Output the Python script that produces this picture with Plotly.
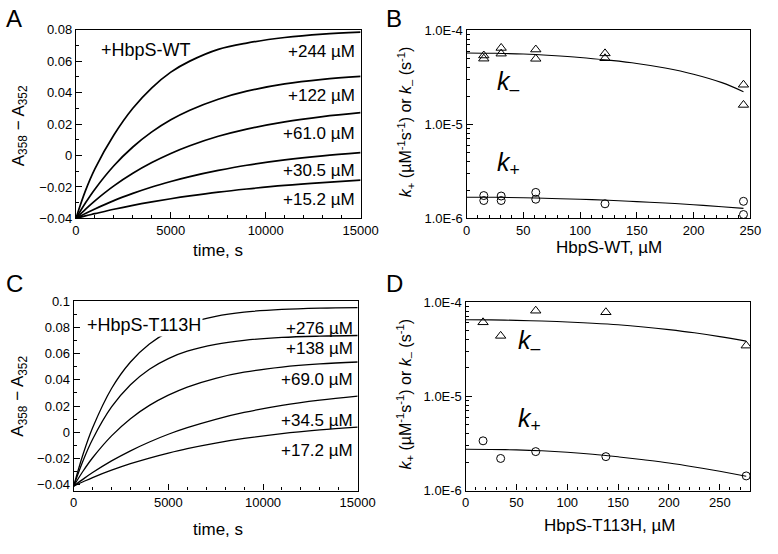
import plotly.graph_objects as go

# ---------------- data ----------------
t_A = [0, 500, 1000, 2000, 3000, 4000, 5000, 6000, 7500, 9000, 11000, 13000, 15000]
A_244 = [-0.04, -0.0225, -0.0085, 0.0130, 0.0300, 0.0430, 0.0530, 0.0600, 0.0675, 0.0715, 0.0750, 0.0772, 0.0785]
A_122 = [-0.04, -0.0302, -0.0214, -0.0065, 0.0054, 0.0150, 0.0227, 0.0288, 0.0358, 0.0409, 0.0455, 0.0484, 0.0503]
A_61 = [-0.04, -0.0342, -0.0288, -0.0193, -0.0113, -0.0045, 0.0013, 0.0062, 0.0122, 0.0168, 0.0214, 0.0247, 0.0272]
A_30 = [-0.04, -0.0369, -0.0340, -0.0287, -0.0241, -0.0200, -0.0165, -0.0134, -0.0095, -0.0062, -0.0028, -0.0002, 0.0018]
A_15 = [-0.04, -0.0384, -0.0370, -0.0342, -0.0317, -0.0295, -0.0275, -0.0257, -0.0233, -0.0213, -0.0190, -0.0172, -0.0157]
A_labels = ["+244 µM", "+122 µM", "+61.0 µM", "+30.5 µM", "+15.2 µM"]

t_C = [0, 500, 1000, 2000, 3000, 4000, 5000, 6000, 7500, 9000, 11000, 13000, 15000]
C_276 = [-0.041, -0.0166, 0.0034, 0.0334, 0.0536, 0.0673, 0.0765, 0.0827, 0.0884, 0.0916, 0.0937, 0.0947, 0.0951]
C_138 = [-0.041, -0.0215, -0.0053, 0.0193, 0.0363, 0.0481, 0.0562, 0.0618, 0.0671, 0.0701, 0.0723, 0.0733, 0.0738]
C_69 = [-0.041, -0.0295, -0.0194, -0.0027, 0.0104, 0.0205, 0.0283, 0.0345, 0.0412, 0.0458, 0.0497, 0.0521, 0.0536]
C_34 = [-0.041, -0.0357, -0.0307, -0.0218, -0.0141, -0.0074, -0.0015, 0.0035, 0.0099, 0.0151, 0.0205, 0.0245, 0.0276]
C_17 = [-0.041, -0.0377, -0.0345, -0.0289, -0.0239, -0.0196, -0.0158, -0.0124, -0.0082, -0.0047, -0.0010, 0.0018, 0.0040]
C_labels = ["+276 µM", "+138 µM", "+69.0 µM", "+34.5 µM", "+17.2 µM"]

B_conc_minus = [15.2, 15.2, 30.5, 30.5, 61, 61, 122, 122, 244, 244]
B_kminus = [5.4e-5, 5.0e-5, 6.5e-5, 5.65e-5, 6.25e-5, 4.98e-5, 5.69e-5, 5.05e-5, 2.64e-5, 1.61e-5]
B_conc_plus = [15.2, 15.2, 30.5, 30.5, 61, 61, 122, 244, 244]
B_kplus = [1.75e-6, 1.55e-6, 1.73e-6, 1.55e-6, 1.89e-6, 1.60e-6, 1.43e-6, 1.52e-6, 1.10e-6]
B_fit_x = [0, 25, 50, 75, 100, 125, 150, 175, 200, 225, 244]
B_fit_minus = [5.74e-5, 5.7e-5, 5.6e-5, 5.4e-5, 5.15e-5, 4.82e-5, 4.45e-5, 3.98e-5, 3.42e-5, 2.78e-5, 2.23e-5]
B_fit_plus = [1.68e-6, 1.68e-6, 1.66e-6, 1.63e-6, 1.6e-6, 1.56e-6, 1.51e-6, 1.46e-6, 1.4e-6, 1.33e-6, 1.28e-6]

D_conc = [17.2, 34.5, 69, 138, 276]
D_kminus = [6.1e-5, 4.38e-5, 8.1e-5, 7.8e-5, 3.45e-5]
D_kplus = [3.37e-6, 2.19e-6, 2.59e-6, 2.29e-6, 1.43e-6]
D_fit_x = [0, 25, 50, 75, 100, 125, 150, 175, 200, 225, 250, 276]
D_fit_minus = [6.5e-5, 6.48e-5, 6.4e-5, 6.3e-5, 6.15e-5, 5.97e-5, 5.75e-5, 5.45e-5, 5.1e-5, 4.72e-5, 4.3e-5, 3.85e-5]
D_fit_plus = [2.74e-6, 2.73e-6, 2.7e-6, 2.64e-6, 2.55e-6, 2.43e-6, 2.28e-6, 2.12e-6, 1.96e-6, 1.78e-6, 1.6e-6, 1.42e-6]

log_tickvals = [1e-6, 1e-5, 1e-4]
log_ticktext = ["1.0E-6", "1.0E-5", "1.0E-4"]
log_minor = [m * 10 ** e for e in (-6, -5) for m in range(2, 10)]

# ---------------- figure ----------------
W, H = 778, 554
FONT = "Arial, Liberation Sans, sans-serif"


def px(x):
    return x / W


def py(y):
    return 1 - y / H


fig = go.Figure()

for ys in (A_244, A_122, A_61, A_30, A_15):
    fig.add_trace(go.Scatter(x=t_A, y=ys, mode="lines", line=dict(color="black", width=1.7, shape="spline"),
                             xaxis="x", yaxis="y", showlegend=False))
for ys in (C_276, C_138, C_69, C_34, C_17):
    fig.add_trace(go.Scatter(x=t_C, y=ys, mode="lines", line=dict(color="black", width=1.3, shape="spline"),
                             xaxis="x3", yaxis="y3", showlegend=False))

tri = dict(symbol="triangle-up-open", size=9, color="black", line=dict(width=1, color="black"))
cir = dict(symbol="circle-open", size=8, color="black", line=dict(width=1, color="black"))

fig.add_trace(go.Scatter(x=B_fit_x, y=B_fit_minus, mode="lines", line=dict(color="black", width=1.1, shape="spline"),
                         xaxis="x2", yaxis="y2", showlegend=False))
fig.add_trace(go.Scatter(x=B_fit_x, y=B_fit_plus, mode="lines", line=dict(color="black", width=1.1, shape="spline"),
                         xaxis="x2", yaxis="y2", showlegend=False))
fig.add_trace(go.Scatter(x=B_conc_minus, y=B_kminus, mode="markers", marker=tri, xaxis="x2", yaxis="y2", showlegend=False))
fig.add_trace(go.Scatter(x=B_conc_plus, y=B_kplus, mode="markers", marker=cir, xaxis="x2", yaxis="y2", showlegend=False))

fig.add_trace(go.Scatter(x=D_fit_x, y=D_fit_minus, mode="lines", line=dict(color="black", width=1.1, shape="spline"),
                         xaxis="x4", yaxis="y4", showlegend=False))
fig.add_trace(go.Scatter(x=D_fit_x, y=D_fit_plus, mode="lines", line=dict(color="black", width=1.1, shape="spline"),
                         xaxis="x4", yaxis="y4", showlegend=False))
fig.add_trace(go.Scatter(x=D_conc, y=D_kminus, mode="markers", marker=tri, xaxis="x4", yaxis="y4", showlegend=False))
fig.add_trace(go.Scatter(x=D_conc, y=D_kplus, mode="markers", marker=cir, xaxis="x4", yaxis="y4", showlegend=False))

common = dict(showline=True, linecolor="black", linewidth=1.2, mirror=True, ticks="inside", ticklen=6,
              tickcolor="black", showgrid=False, zeroline=False,
              tickfont=dict(family=FONT, size=13, color="black"))


def ax(domain, anchor, **kw):
    d = dict(common)
    d.update(domain=domain, anchor=anchor)
    d.update(kw)
    return d


def minor_lin(dt):
    return dict(ticks="inside", ticklen=3, tickcolor="black", dtick=dt, showgrid=False)


fig.update_layout(
    width=W, height=H, margin=dict(l=0, r=0, t=0, b=0),
    paper_bgcolor="white", plot_bgcolor="white",
    font=dict(family=FONT, color="black"),
    xaxis=ax([px(74), px(367)], "y", range=[0, 15000], dtick=5000, tickformat="d", minor=minor_lin(1000)),
    yaxis=ax([py(217.3), py(23.3)], "x", range=[-0.04, 0.08], dtick=0.02, tickformat=".2~f",
             minor=minor_lin(0.01)),
    xaxis2=ax([px(476), px(768)], "y2", range=[0, 250], dtick=50, tickformat="d", minor=minor_lin(10)),
    yaxis2=ax([py(217.3), py(24)], "x2", type="log", range=[-6, -4], tickvals=log_tickvals,
              ticktext=log_ticktext, minor=dict(ticks="inside", ticklen=3, tickcolor="black", tickvals=log_minor)),
    xaxis3=ax([px(71.7), px(364)], "y3", range=[0, 15000], dtick=5000, tickformat="d", minor=minor_lin(1000)),
    yaxis3=ax([py(497), py(302.3)], "x3", range=[-0.0444, 0.1], tick0=0, dtick=0.02, tickformat=".2~f",
              minor=minor_lin(0.01)),
    xaxis4=ax([px(475), px(768)], "y4", range=[0, 280], dtick=50, tickformat="d", minor=minor_lin(10)),
    yaxis4=ax([py(497), py(303.3)], "x4", type="log", range=[-6, -4], tickvals=log_tickvals,
              ticktext=log_ticktext, minor=dict(ticks="inside", ticklen=3, tickcolor="black", tickvals=log_minor)),
)

ann = []


def text(x, y, s, size=17, xanchor="center", yanchor="middle", angle=0, **kw):
    ann.append(dict(x=px(x), y=py(y), xref="paper", yref="paper", text=s, showarrow=False,
                    xanchor=xanchor, yanchor=yanchor, textangle=angle,
                    font=dict(family=FONT, size=size, color="black"), **kw))


# panel letters
text(0, 12, "A", size=24, xanchor="left")
text(391, 12, "B", size=24, xanchor="left")
text(0, 284, "C", size=24, xanchor="left")
text(391, 284, "D", size=24, xanchor="left")

# panel A texts
text(98, 44, "+HbpS-WT", size=18, xanchor="left")
for lab, yy in zip(A_labels, [46, 91, 130, 168, 198]):
    text(363, yy, lab, xanchor="right")
text(220, 250, "time, s")
text(16, 122, "A<sub>358</sub> − A<sub>352</sub>", angle=-90)

# panel C texts
text(83, 327, "+HbpS-T113H", size=18, xanchor="left", bgcolor="white", borderpad=1)
for lab, yy in zip(C_labels, [330, 351, 383, 425, 456]):
    text(361, yy, lab, xanchor="right")
text(220, 537, "time, s")
text(16, 400, "A<sub>358</sub> − A<sub>352</sub>", angle=-90)

# panel B texts
ytitle = "<i>k</i><sub>+</sub> (µM<sup>-1</sup>s<sup>-1</sup>) or <i>k</i><sub>–</sub> (s<sup>-1</sup>)"
text(413, 118, ytitle, size=16, angle=-90)
text(623, 247, "HbpS-WT, µM")
text(505, 78, "<i>k</i><sub>–</sub>", size=25, xanchor="left")
text(505, 161, "<i>k</i><sub>+</sub>", size=25, xanchor="left")

# panel D texts
text(413, 398, ytitle, size=16, angle=-90)
text(623, 533, "HbpS-T113H, µM")
text(527, 344, "<i>k</i><sub>–</sub>", size=25, xanchor="left")
text(527, 424, "<i>k</i><sub>+</sub>", size=25, xanchor="left")

fig.update_layout(annotations=ann)
fig.write_html("out.html", config={"displayModeBar": False},
               post_script="document.body.style.margin='0px';")
